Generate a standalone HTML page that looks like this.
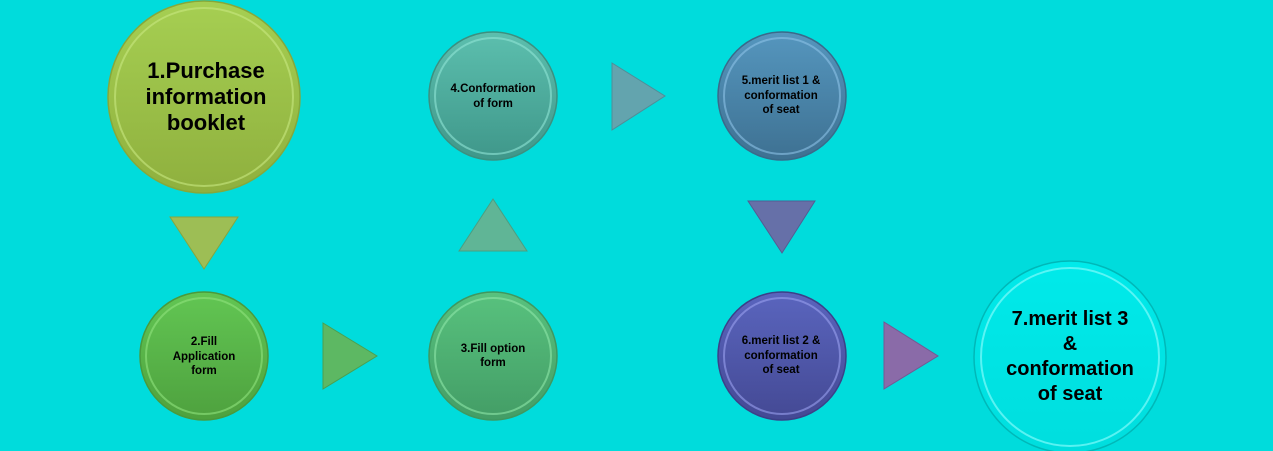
<!DOCTYPE html>
<html><head><meta charset="utf-8"><style>
html,body{margin:0;padding:0;background:#00dcdc;}
svg{display:block}
text{font-family:"Liberation Sans",sans-serif;font-weight:bold;fill:#000;text-anchor:middle}
</style></head><body>
<svg width="1273" height="451" viewBox="0 0 1273 451" xmlns="http://www.w3.org/2000/svg">
<defs>
<linearGradient id="g1" x1="0" y1="0" x2="0" y2="1"><stop offset="0" stop-color="#a6cf52"/><stop offset="1" stop-color="#8fb03e"/></linearGradient>
<linearGradient id="g2" x1="0" y1="0" x2="0" y2="1"><stop offset="0" stop-color="#62c653"/><stop offset="1" stop-color="#4ea13e"/></linearGradient>
<linearGradient id="g3" x1="0" y1="0" x2="0" y2="1"><stop offset="0" stop-color="#58c27e"/><stop offset="1" stop-color="#439d66"/></linearGradient>
<linearGradient id="g4" x1="0" y1="0" x2="0" y2="1"><stop offset="0" stop-color="#5cbfae"/><stop offset="1" stop-color="#3f978a"/></linearGradient>
<linearGradient id="g5" x1="0" y1="0" x2="0" y2="1"><stop offset="0" stop-color="#5596be"/><stop offset="1" stop-color="#3e7192"/></linearGradient>
<linearGradient id="g6" x1="0" y1="0" x2="0" y2="1"><stop offset="0" stop-color="#5a65be"/><stop offset="1" stop-color="#444994"/></linearGradient>
<linearGradient id="g7" x1="0" y1="0" x2="0" y2="1"><stop offset="0" stop-color="#00eaea"/><stop offset="1" stop-color="#00dede"/></linearGradient>
</defs>
<!-- circles -->
<circle cx="204" cy="97" r="96" fill="url(#g1)" stroke="#86a83a" stroke-width="1.5"/>
<circle cx="204" cy="97" r="89" fill="none" stroke="#c8e880" stroke-width="2" opacity="0.6"/>
<circle cx="204" cy="356" r="64" fill="url(#g2)" stroke="#4a9a3c" stroke-width="1.5"/>
<circle cx="204" cy="356" r="58" fill="none" stroke="#8fe27d" stroke-width="2" opacity="0.6"/>
<circle cx="493" cy="356" r="64" fill="url(#g3)" stroke="#3f9860" stroke-width="1.5"/>
<circle cx="493" cy="356" r="58" fill="none" stroke="#8de6a8" stroke-width="2" opacity="0.6"/>
<circle cx="493" cy="96" r="64" fill="url(#g4)" stroke="#3c9080" stroke-width="1.5"/>
<circle cx="493" cy="96" r="58" fill="none" stroke="#8fe4d6" stroke-width="2" opacity="0.6"/>
<circle cx="782" cy="96" r="64" fill="url(#g5)" stroke="#3a6a8a" stroke-width="1.5"/>
<circle cx="782" cy="96" r="58" fill="none" stroke="#8cc2e6" stroke-width="2" opacity="0.6"/>
<circle cx="782" cy="356" r="64" fill="url(#g6)" stroke="#3c4088" stroke-width="1.5"/>
<circle cx="782" cy="356" r="58" fill="none" stroke="#9aa0ee" stroke-width="2" opacity="0.6"/>
<circle cx="1070" cy="357" r="96" fill="url(#g7)" stroke="#00b8b8" stroke-width="1.5"/>
<circle cx="1070" cy="357" r="89" fill="none" stroke="#7ffafa" stroke-width="2" opacity="0.7"/>
<!-- triangles -->
<polygon points="170,217 238,217 204,269" fill="#9dbe55" stroke="#86a63e"/>
<polygon points="323,323 377,356 323,389" fill="#5db863" stroke="#4aa050"/>
<polygon points="459,251 527,251 493,199" fill="#60b596" stroke="#4c9e80"/>
<polygon points="612,63 665,96 612,130" fill="#63a4ae" stroke="#4f8e98"/>
<polygon points="748,201 815,201 782,253" fill="#6670a8" stroke="#545c92"/>
<polygon points="884,322 938,356 884,389" fill="#8a6ba8" stroke="#745894"/>
<!-- labels -->
<text font-size="22"><tspan x="206" y="78">1.Purchase</tspan><tspan x="206" y="104">information</tspan><tspan x="206" y="130">booklet</tspan></text>
<text font-size="11.5"><tspan x="204" y="345">2.Fill</tspan><tspan x="204" y="360">Application</tspan><tspan x="204" y="374">form</tspan></text>
<text font-size="11.5"><tspan x="493" y="352">3.Fill option</tspan><tspan x="493" y="366">form</tspan></text>
<text font-size="11.5"><tspan x="493" y="92">4.Conformation</tspan><tspan x="493" y="107">of form</tspan></text>
<text font-size="11.5"><tspan x="781" y="84">5.merit list 1 &amp;</tspan><tspan x="781" y="99">conformation</tspan><tspan x="781" y="113">of seat</tspan></text>
<text font-size="11.5"><tspan x="781" y="344">6.merit list 2 &amp;</tspan><tspan x="781" y="359">conformation</tspan><tspan x="781" y="373">of seat</tspan></text>
<text font-size="20"><tspan x="1070" y="325">7.merit list 3</tspan><tspan x="1070" y="350">&amp;</tspan><tspan x="1070" y="375">conformation</tspan><tspan x="1070" y="400">of seat</tspan></text>
</svg>
</body></html>
